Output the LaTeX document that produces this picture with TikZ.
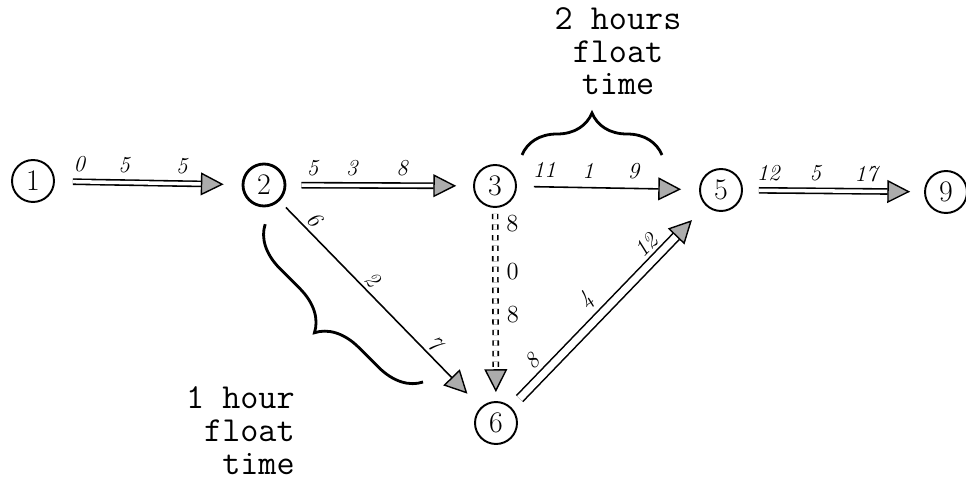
\documentclass[tikz,border=0pt]{standalone}
\usepackage{tikz}
\usetikzlibrary{arrows.meta,decorations.pathreplacing}

\tikzset{
  event/.style={circle,draw,line width=1.1pt,minimum size=0.84cm,inner sep=0pt,
    font=\fontsize{17}{20}\selectfont},
  head/.style={-{Triangle[length=13pt,width=13pt,fill=gray!65,line width=0.8pt]}},
  dbl/.style={head,double,double distance=2pt,line width=0.9pt},
  sgl/.style={head,line width=0.9pt},
  lbl/.style={font=\itshape\fontsize{13}{15}\selectfont,inner sep=1pt},
  vlbl/.style={font=\fontsize{14}{16}\selectfont,inner sep=1pt},
  note/.style={font=\ttfamily\fontsize{20}{18.7}\selectfont,inner sep=0pt},
  curly/.style={decorate,decoration={brace,amplitude=0.84cm},line width=1.6pt},
}

\begin{document}
\begin{tikzpicture}[x=0.02cm,y=-0.02cm]
        \useasboundingbox (0,0) rectangle (966,479);
        % events
        \node[event] (e1) at (33,181) {1};
        \node[event,line width=1.6pt] (e2) at (264,185) {2};
        \node[event] (e3) at (495,186) {3};
        \node[event] (e5) at (721,190) {5};
        \node[event] (e9) at (946,192) {9};
        \node[event] (e6) at (496,423) {6};
        % activities
        \draw[dbl,shorten <=10.2pt,shorten >=10.2pt] (e1) -- (e2)
          node[lbl,pos=0.13,above=4pt] {0} node[lbl,pos=0.37,above=4pt] {5}
          node[lbl,pos=0.68,above=4pt] {5};
        \draw[dbl,shorten <=8.5pt,shorten >=9.6pt] (e2) -- (e3)
          node[lbl,pos=0.14,above=4pt] {5} node[lbl,pos=0.35,above=4pt] {3}
          node[lbl,pos=0.62,above=4pt] {8};
        \draw[sgl,shorten <=9.6pt,shorten >=10.2pt] (e3) -- (e5)
          node[lbl,pos=0.15,above=4pt] {11} node[lbl,pos=0.39,above=4pt] {1}
          node[lbl,pos=0.64,above=4pt] {9};
        \draw[dbl,shorten <=9.1pt,shorten >=7.9pt] (e5) -- (e9)
          node[lbl,pos=0.14,above=4pt] {12} node[lbl,pos=0.40,above=4pt] {5}
          node[lbl,pos=0.68,above=4pt] {17};
        \draw[sgl,shorten <=5.1pt,shorten >=10.8pt] (e2) -- (e6)
          node[lbl,pos=0.13,above=1pt,sloped] {6} node[lbl,pos=0.42,above=1pt,sloped] {2}
          node[lbl,pos=0.73,above=1pt,sloped] {7};
        \draw[dbl,dashed,shorten <=3.4pt,shorten >=5.1pt] (e3) -- (e6)
          node[vlbl,pos=0.08,right=5pt] {8} node[vlbl,pos=0.33,right=5pt] {0}
          node[vlbl,pos=0.55,right=5pt] {8};
        \draw[dbl,double distance=4pt,shorten <=6.8pt,shorten >=11.3pt] (e6) -- (e5)
          node[lbl,pos=0.17,above=4pt,sloped] {8} node[lbl,pos=0.46,above=4pt,sloped] {4}
          node[lbl,pos=0.75,above=3pt,sloped] {12};
        % float times
        \coordinate (ta) at (522,155);
        \coordinate (tb) at (662,155);
        \draw[curly] (ta) -- (tb);
        \node[note,align=center,anchor=base] (ftop) at (618,95) {2 hours\\float\\time};
        \coordinate (la) at (423,382);
        \coordinate (lb) at (265,224);
        \draw[curly] (la) -- (lb);
        \node[note,align=right,anchor=base east] (fbot) at (295,474) {1 hour\\float\\time};
\end{tikzpicture}
\end{document}
